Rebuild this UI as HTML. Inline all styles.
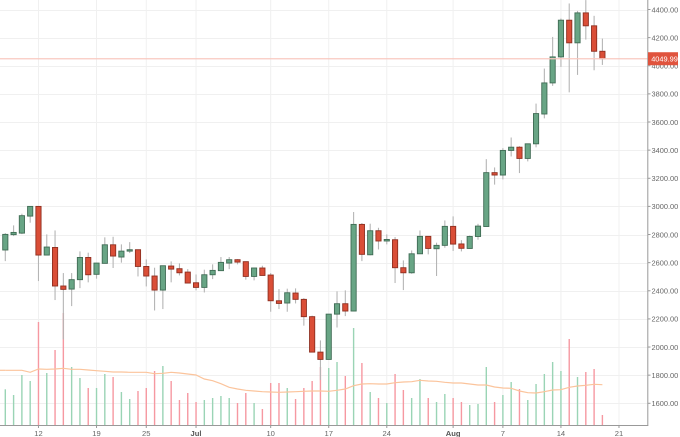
<!DOCTYPE html>
<html>
<head>
<meta charset="utf-8">
<style>
html,body{margin:0;padding:0;background:#fff;width:680px;height:437px;overflow:hidden}
svg{display:block;filter:blur(0.3px)}
text{font-family:"Liberation Sans",sans-serif}
</style>
</head>
<body>
<svg id="chart" width="680" height="437" viewBox="0 0 680 437" xmlns="http://www.w3.org/2000/svg"></svg>
<script>
const priceTicks = [1600,1800,2000,2200,2400,2600,2800,3000,3200,3400,3600,3800,4000,4200,4400];
const dateTickLabels = ['12','19','25','Jul','10','17','24','Aug','7','14','21'];
const dateTickDays = [4,11,17,23,32,39,46,54,60,67,74];
const lastPrice = 4049.99;
const opens = [2690,2799,2810,2931,3000,2654,2708,2434,2412,2479,2637,2517,2595,2727,2640,2682,2692,2573,2505,2405,2576,2557,2533,2457,2424,2514,2543,2597,2621,2607,2502,2562,2512,2329,2313,2384,2339,2216,1964,1912,2234,2308,2256,2872,2656,2827,2754,2763,2564,2528,2663,2787,2699,2723,2858,2733,2701,2786,2857,3240,3223,3398,3421,3341,3445,3657,3878,4063,4324,4163,4376,4284,4103];
const highs = [2810,2865,2948,3002,3002,2801,2829,2526,2526,2680,2671,2597,2780,2784,2730,2746,2692,2623,2564,2578,2609,2595,2554,2516,2550,2588,2640,2640,2625,2607,2562,2578,2526,2412,2415,2417,2348,2223,2047,2234,2396,2403,2960,2882,2877,2848,2801,2782,2616,2687,2829,2787,2742,2900,2929,2760,2793,2876,3336,3277,3414,3490,3428,3445,3731,3980,4205,4336,4443,4390,4467,4355,4193];
const lows = [2611,2789,2803,2884,2469,2654,2334,2055,2291,2419,2460,2486,2595,2562,2600,2668,2502,2431,2260,2270,2460,2509,2455,2403,2388,2483,2543,2554,2588,2479,2474,2509,2251,2270,2251,2310,2152,1964,1766,1912,2139,2220,2256,2611,2652,2694,2730,2455,2405,2521,2663,2659,2505,2706,2683,2680,2699,2763,2857,3155,3192,3355,3237,3320,3420,3626,3857,3992,3811,3935,4186,3968,4006];
const closes = [2801,2815,2934,3000,2654,2711,2434,2410,2479,2637,2514,2597,2727,2647,2682,2692,2573,2505,2405,2578,2554,2528,2455,2424,2514,2545,2602,2621,2604,2502,2562,2509,2329,2310,2386,2339,2216,1964,1912,2234,2308,2256,2872,2659,2827,2754,2765,2564,2528,2663,2787,2701,2723,2858,2732,2702,2786,2860,3240,3223,3398,3421,3341,3445,3660,3878,4063,4324,4163,4376,4284,4103,4050];
const volumes = [35.7,30,50,44,103,52,75,112,58,47,37,37,51,48,33,26,34,37,54,59,44,25,32,23,25,27,29,27,22,32,22,16,42,42,37,26,37,44,58,57,63,49,97,62,33,27,22,51,35,27,46,27,23,31,27,23,20,21,58,23,30,43,36,25,41,51,63,54,86,48,53,56,10];
const volumeAverage = [54.7,54.7,54.7,52.7,56,55.7,56,56.7,55.7,55.7,55,54.3,53.7,53,53,52.7,52.7,52.7,51.3,51.7,52.7,52,51,50,46,44.3,41.3,37.7,36,34.7,34,33.3,33,32.7,33,33.3,33.7,34,34,33.7,34.7,36,39.3,41,41.3,41,41,42.3,43,43.3,44.7,44,43.7,42.7,42,42,41,40,40,38,37,36.7,34,32.3,32,33.3,35,35.3,37.7,39,39.7,40.7,40.3];

const NS = 'http://www.w3.org/2000/svg';
const svg = document.getElementById('chart');
const plotRight = 647.5, plotBottom = 425;
function xAt(day){ return 5.3 + day * 8.293; }
function yPrice(p){ return 9.5 + (4400 - p) * 0.14064; }
function yVol(v){ return plotBottom - v; }
function add(tag, attrs, parent){
  const el = document.createElementNS(NS, tag);
  for (const k in attrs) el.setAttribute(k, attrs[k]);
  (parent || svg).appendChild(el);
  return el;
}

const gridGroup = add('g', {});


priceTicks.forEach(function(p){
  const y = Math.round(yPrice(p)) + 0.5;
  const g = add('line', {x1:0, x2:plotRight, y1:y, y2:y, stroke:'#f0f0f0', 'stroke-width':1}, gridGroup);
  
  
});
dateTickDays.forEach(function(d){
  const x = xAt(d);
  const g = add('line', {x1:x, x2:x, y1:0, y2:plotBottom, stroke:'#f0f0f0', 'stroke-width':1}, gridGroup);
  
  
});

const volGroup = add('g', {});


volumes.forEach(function(v, i){
  const up = closes[i] >= opens[i];
  const b = add('rect', {x:xAt(i)-0.7, y:yVol(v), width:1.4, height:v, fill: up ? '#9ad4b5' : '#f698a1'}, volGroup);
  
  
});

const maPath = add('polyline', {
  points: volumeAverage.map(function(v, i){ return xAt(i).toFixed(1) + ',' + yVol(v).toFixed(1); }).join(' '),
  fill:'none', stroke:'#fbc49c', 'stroke-width':1.2
});


const maLead = add('line', {x1:0, x2:xAt(0), y1:yVol(volumeAverage[0]), y2:yVol(volumeAverage[0]), stroke:'#fbc49c', 'stroke-width':1.2});



const candleGroup = add('g', {});


opens.forEach(function(o, i){
  const c = closes[i], up = c >= o, x = xAt(i);
  const w = add('line', {x1:x, x2:x, y1:yPrice(highs[i]), y2:yPrice(lows[i]), stroke:'#b5b5b5', 'stroke-width':1.1}, candleGroup);
  
  
  const top = yPrice(Math.max(o, c)), bot = yPrice(Math.min(o, c));
  const r = add('rect', {x:x-2.6, y:top, width:5.2, height:Math.max(bot-top, 1),
    fill: up ? '#68a585' : '#da4e37', stroke: up ? '#3f6b54' : '#8f2f20', 'stroke-width':0.9}, candleGroup);
  
  
});

const lastLine = add('line', {x1:0, x2:plotRight, y1:yPrice(lastPrice), y2:yPrice(lastPrice), stroke:'#f9c9c0', 'stroke-width':1.2});



const rightAxis = add('line', {x1:plotRight+0.3, x2:plotRight+0.3, y1:0, y2:plotBottom+0.5, stroke:'#999', 'stroke-width':1});


const bottomAxis = add('line', {x1:0, x2:plotRight+0.8, y1:plotBottom+0.5, y2:plotBottom+0.5, stroke:'#999', 'stroke-width':1});



priceTicks.forEach(function(p){
  const y = yPrice(p);
  const t = add('line', {x1:plotRight, x2:plotRight+3, y1:y, y2:y, stroke:'#999', 'stroke-width':1});
  
  
  const l = add('text', {x:651.5, y:y+2.8, 'font-size':7.4, fill:'#666'});
  l.textContent = p.toFixed(2);
  
  
});
dateTickDays.forEach(function(d, i){
  const x = xAt(d), lab = dateTickLabels[i], bold = lab === 'Jul' || lab === 'Aug';
  const t = add('line', {x1:x, x2:x, y1:plotBottom, y2:plotBottom+3, stroke:'#999', 'stroke-width':1});
  
  
  const l = add('text', {x:x, y:436, 'font-size':7.6, 'text-anchor':'middle', fill: bold ? '#555' : '#666', 'font-weight': bold ? 'bold' : 'normal'});
  l.textContent = lab;
  
  
});

const lastBox = add('rect', {x:648, y:yPrice(lastPrice)-6.5, width:30, height:13, fill:'#e0533d'});


const lastText = add('text', {x:651.2, y:yPrice(lastPrice)+2.8, 'font-size':7.4, fill:'#fff'});
lastText.textContent = lastPrice.toFixed(2);


</script>
</body>
</html>
